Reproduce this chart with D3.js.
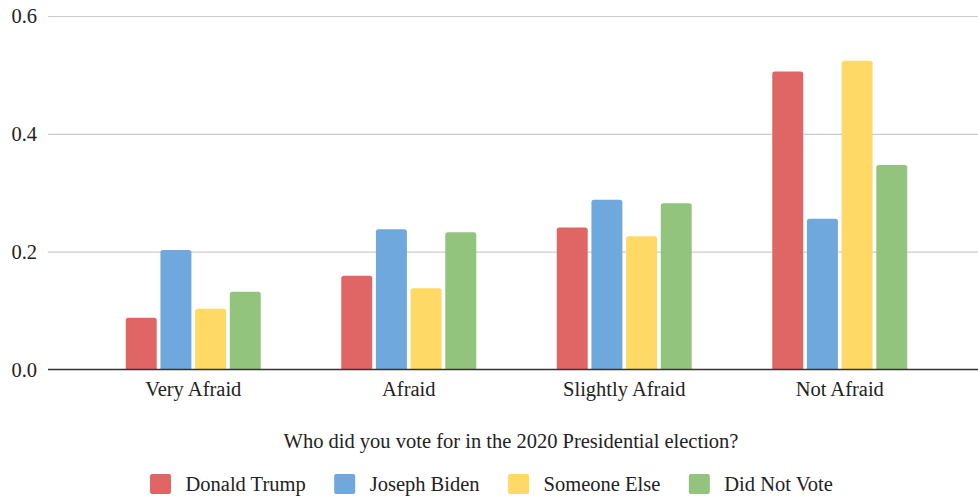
<!DOCTYPE html>
<html>
<head>
<meta charset="utf-8">
<script src="https://cdn.jsdelivr.net/npm/d3@7"></script>
<style>
  html, body { margin: 0; padding: 0; background: #fff; }
  svg { display: block; }
  text { font-family: "Liberation Serif", "Times New Roman", serif; fill: #222; }
</style>
</head>
<body>
<svg id="chart" width="978" height="498"></svg>
<script>
const categories = ["Very Afraid", "Afraid", "Slightly Afraid", "Not Afraid"];
const seriesNames = ["Donald Trump", "Joseph Biden", "Someone Else", "Did Not Vote"];
const trumpValues = [0.088, 0.159, 0.241, 0.506];
const bidenValues = [0.203, 0.238, 0.288, 0.256];
const elseValues = [0.103, 0.138, 0.226, 0.524];
const noVoteValues = [0.132, 0.233, 0.282, 0.347];
const yTicks = [0.0, 0.2, 0.4, 0.6];
const colors = ["#e06666", "#6fa8dc", "#ffd966", "#93c47d"];
const xTitle = "Who did you vote for in the 2020 Presidential election?";

const seriesValues = [trumpValues, bidenValues, elseValues, noVoteValues];

const svg = d3.select("#chart");
const plotLeft = 48, plotRight = 978, plotTop = 16, plotBottom = 369.5;
const fs = "20.5px";

const y = d3.scaleLinear().domain([0, 0.6]).range([plotBottom, plotTop]);
const x0 = d3.scaleBand().domain(categories).range([85.5, 947.5]).padding(0);
const groupWidth = 135;
const x1 = d3.scaleBand().domain(seriesNames).range([0, groupWidth]).paddingInner(0.107).paddingOuter(0);

// gridlines + y labels
const yAxis = d3.axisLeft(y).tickValues(yTicks).tickFormat(d3.format(".1f")).tickSize(0).tickPadding(10);
const gy = svg.append("g").attr("transform", `translate(${plotLeft},0)`).call(yAxis);
gy.select(".domain").remove();
gy.selectAll(".tick text")
  .attr("x", -11)
  .attr("dy", "0.34em")
  .style("font-size", fs)
  .style("font-family", "'Liberation Serif', serif")
  .attr("fill", "#222");
gy.selectAll(".tick").filter(d => d !== 0).append("line")
  .attr("x1", 0).attr("x2", plotRight - plotLeft)
  .attr("stroke", "#cccccc").attr("stroke-width", 1.2);

// bars
function barPath(x, yTop, w, yBase, r) {
  const h = yBase - yTop;
  r = Math.min(r, h / 2, w / 2);
  return `M${x},${yBase}V${yTop + r}Q${x},${yTop} ${x + r},${yTop}H${x + w - r}Q${x + w},${yTop} ${x + w},${yTop + r}V${yBase}Z`;
}

const groups = svg.append("g").selectAll("g")
  .data(categories)
  .join("g")
  .attr("transform", d => `translate(${x0(d) + (x0.bandwidth() - groupWidth) / 2},0)`);

groups.selectAll("path")
  .data((c, ci) => seriesNames.map((s, si) => ({ s, si, v: seriesValues[si][ci] })))
  .join("path")
  .attr("d", d => barPath(x1(d.s), y(d.v), x1.bandwidth(), y(0), 2.5))
  .attr("fill", d => colors[d.si]);

// x axis baseline + labels
const xAxis = d3.axisBottom(x0).tickSize(0).tickPadding(0);
const gx = svg.append("g").attr("transform", `translate(0,${plotBottom})`).call(xAxis);
gx.select(".domain").remove();
gx.selectAll(".tick text")
  .attr("y", 26.5)
  .attr("dy", 0)
  .style("font-size", fs)
  .style("font-family", "'Liberation Serif', serif")
  .attr("fill", "#222");
svg.append("line")
  .attr("x1", plotLeft).attr("x2", plotRight)
  .attr("y1", plotBottom).attr("y2", plotBottom)
  .attr("stroke", "#333").attr("stroke-width", 1.6);

// axis title
svg.append("text")
  .attr("x", 511).attr("y", 447.5)
  .attr("text-anchor", "middle")
  .style("font-size", fs)
  .text(xTitle);

// legend
const legend = svg.append("g");
let lx = 150;
seriesNames.forEach((name, i) => {
  legend.append("rect")
    .attr("x", lx).attr("y", 474).attr("width", 21).attr("height", 20)
    .attr("rx", 2).attr("fill", colors[i]);
  const t = legend.append("text")
    .attr("x", lx + 35.5).attr("y", 490.5)
    .style("font-size", fs)
    .text(name);
  const w = t.node().getComputedTextLength();
  lx = lx + 35.5 + w + 28.5;
});
</script>
</body>
</html>
